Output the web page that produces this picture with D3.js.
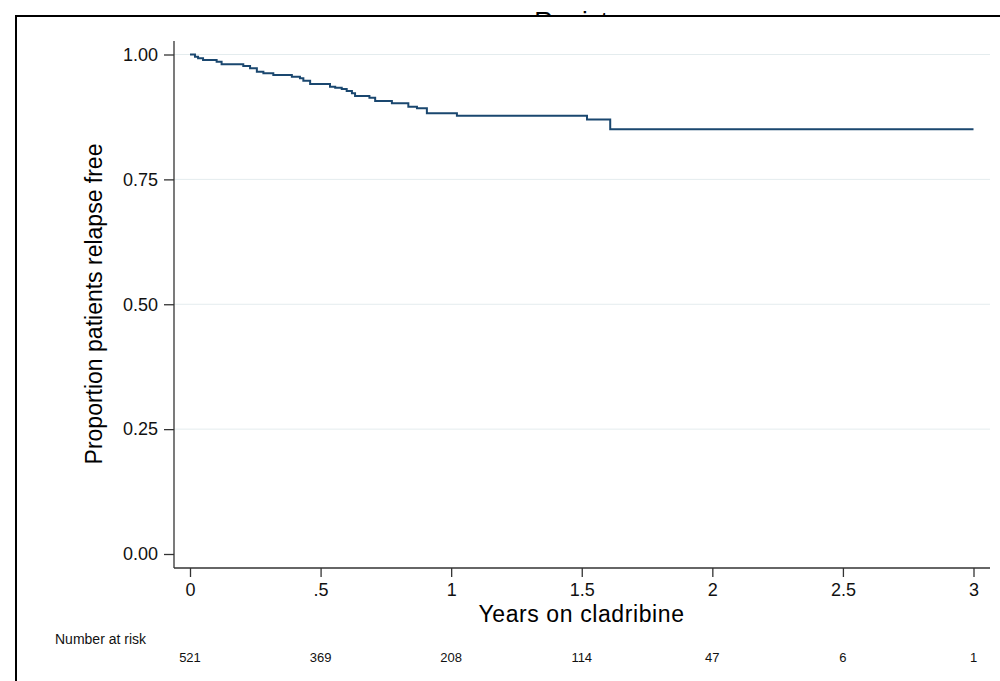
<!DOCTYPE html>
<html>
<head>
<meta charset="utf-8">
<script src="https://cdn.jsdelivr.net/npm/d3@7"></script>
<style>
    body { margin: 0; background: #fff; }
    svg { display: block; font-family: "Liberation Sans", Arial, sans-serif; }
    .axis path, .axis line { stroke: #333; stroke-width: 1.3px; }
    .axis text { fill: #111; }
    .grid line { stroke: #e4ecee; stroke-width: 1px; }
</style>
</head>
<body>
<svg id="chart"></svg>
<script>
// Kaplan-Meier estimate (years, proportion relapse free)
const times = [0, 0.019, 0.031, 0.050, 0.102, 0.121, 0.204, 0.230, 0.256, 0.281, 0.319,
    0.390, 0.421, 0.434, 0.460, 0.536, 0.556, 0.581, 0.600, 0.620, 0.632, 0.687, 0.709,
    0.773, 0.836, 0.869, 0.907, 1.022, 1.520, 1.609, 3.0];
const survival = [1.000, 0.9956, 0.9924, 0.9890, 0.9856, 0.9804, 0.9770, 0.9724, 0.9656, 0.9624, 0.9590,
    0.9556, 0.9524, 0.9476, 0.9409, 0.9355, 0.9335, 0.9309, 0.9269, 0.9223, 0.9169, 0.9135, 0.9069,
    0.9023, 0.8955, 0.8923, 0.8823, 0.8775, 0.8699, 0.8502, 0.8502];

const xTicks = [0, 0.5, 1, 1.5, 2, 2.5, 3];
const xTickLabels = ['0', '.5', '1', '1.5', '2', '2.5', '3'];
const yTicks = [0, 0.25, 0.5, 0.75, 1];
const atRisk = [521, 369, 208, 114, 47, 6, 1];

class KMChart {

    constructor(_config) {
        this.config = {
            parentElement: _config.parentElement,
            containerWidth: _config.containerWidth || 1000,
            containerHeight: _config.containerHeight || 681
        }
        this.data = times.map((t, i) => ({t: t, s: survival[i]}));
        this.initVis();
    }

    initVis() {
        let vis = this;

        vis.svg = d3.select(vis.config.parentElement)
            .attr('width', vis.config.containerWidth)
            .attr('height', vis.config.containerHeight);

        // title of the original figure, cut off by the frame
        vis.svg.append('text')
            .attr('x', 582)
            .attr('y', 30)
            .attr('text-anchor', 'middle')
            .style('font-size', '26px')
            .text('Registry');

        // outer frame
        vis.svg.append('rect')
            .attr('x', 16)
            .attr('y', 16)
            .attr('width', 1100)
            .attr('height', 800)
            .attr('fill', '#fff')
            .attr('stroke', '#000')
            .attr('stroke-width', 2);

        vis.xScale = d3.scaleLinear()
            .domain([0, 3])
            .range([190, 973.5]);

        vis.yScale = d3.scaleLinear()
            .domain([0, 1])
            .range([554, 54.5]);

        vis.chart = vis.svg.append('g');

        // gridlines
        vis.chart.append('g')
            .attr('class', 'grid')
            .selectAll('line')
            .data(yTicks.filter(d => d > 0))
            .join('line')
            .attr('x1', 174)
            .attr('x2', 990)
            .attr('y1', d => vis.yScale(d))
            .attr('y2', d => vis.yScale(d));

        vis.xAxis = d3.axisBottom(vis.xScale)
            .tickValues(xTicks)
            .tickFormat((d, i) => xTickLabels[i])
            .tickSize(9)
            .tickPadding(6)
            .tickSizeOuter(0);

        vis.yAxis = d3.axisLeft(vis.yScale)
            .tickValues(yTicks)
            .tickFormat(d3.format('.2f'))
            .tickSize(10)
            .tickPadding(6)
            .tickSizeOuter(0);

        vis.xAxisG = vis.chart.append('g')
            .attr('class', 'axis x-axis')
            .attr('transform', 'translate(0,568)');

        vis.yAxisG = vis.chart.append('g')
            .attr('class', 'axis y-axis')
            .attr('transform', 'translate(174,0)');

        // y title
        vis.svg.append('text')
            .attr('transform', 'translate(102,304) rotate(-90)')
            .attr('text-anchor', 'middle')
            .style('font-size', '23px')
            .attr('fill', '#000')
            .text('Proportion patients relapse free');

        // x title
        vis.svg.append('text')
            .attr('x', 581.5)
            .attr('y', 622)
            .attr('text-anchor', 'middle')
            .style('font-size', '23px')
            .style('letter-spacing', '0.6px')
            .attr('fill', '#000')
            .text('Years on cladribine');

        vis.svg.append('text')
            .attr('x', 55)
            .attr('y', 644)
            .style('font-size', '14px')
            .attr('fill', '#111')
            .text('Number at risk');
    }

    renderVis() {
        let vis = this;

        vis.xAxisG.call(vis.xAxis);
        vis.xAxisG.select('.domain').attr('d', 'M174,0H990');
        vis.xAxisG.selectAll('.tick text').style('font-size', '18px');

        vis.yAxisG.call(vis.yAxis);
        vis.yAxisG.select('.domain').attr('d', 'M0,41V568');
        vis.yAxisG.selectAll('.tick text').style('font-size', '18px');

        const line = d3.line()
            .x(d => vis.xScale(d.t))
            .y(d => vis.yScale(d.s))
            .curve(d3.curveStepAfter);

        vis.chart.append('path')
            .datum(vis.data)
            .attr('fill', 'none')
            .attr('stroke', '#1a476f')
            .attr('stroke-width', 2)
            .attr('d', line);

        vis.svg.append('g')
            .selectAll('text')
            .data(atRisk)
            .join('text')
            .attr('x', (d, i) => vis.xScale(xTicks[i]))
            .attr('y', 662)
            .attr('text-anchor', 'middle')
            .style('font-size', '13px')
            .attr('fill', '#111')
            .text(d => d);
    }
}

const km = new KMChart({parentElement: '#chart'});
km.renderVis();
</script>
</body>
</html>
